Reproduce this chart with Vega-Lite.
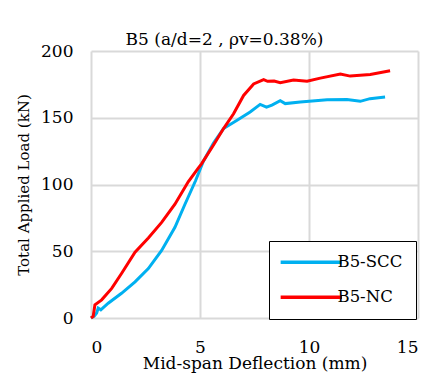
{
  "$schema": "https://vega.github.io/schema/vega-lite/v6.json",
  "width": 327,
  "height": 267,
  "autosize": {"type": "none"},
  "padding": {"left": 91, "top": 51, "right": 20, "bottom": 57},
  "background": "white",
  "title": {"text": "B5 (a/d=2 , ρv=0.38%)", "font": "DejaVu Serif", "fontSize": 17, "fontWeight": "normal", "color": "black", "offset": -7, "dx": -30, "anchor": "middle"},
  "data": {"values": [
    {"series": "B5-SCC", "x": 0, "y": 0},
    {"series": "B5-SCC", "x": 0.15, "y": 1.5},
    {"series": "B5-SCC", "x": 0.26, "y": 3.7},
    {"series": "B5-SCC", "x": 0.33, "y": 7.4},
    {"series": "B5-SCC", "x": 0.45, "y": 6.1},
    {"series": "B5-SCC", "x": 0.79, "y": 11.1},
    {"series": "B5-SCC", "x": 1.4, "y": 18.5},
    {"series": "B5-SCC", "x": 2.02, "y": 27.1},
    {"series": "B5-SCC", "x": 2.63, "y": 37},
    {"series": "B5-SCC", "x": 3.24, "y": 50.6},
    {"series": "B5-SCC", "x": 3.85, "y": 67.9},
    {"series": "B5-SCC", "x": 4.31, "y": 85.2},
    {"series": "B5-SCC", "x": 4.8, "y": 103},
    {"series": "B5-SCC", "x": 5.15, "y": 117.3},
    {"series": "B5-SCC", "x": 5.62, "y": 131},
    {"series": "B5-SCC", "x": 6.08, "y": 141.9},
    {"series": "B5-SCC", "x": 6.7, "y": 148.1},
    {"series": "B5-SCC", "x": 7.3, "y": 154.3},
    {"series": "B5-SCC", "x": 7.76, "y": 160},
    {"series": "B5-SCC", "x": 8.05, "y": 158},
    {"series": "B5-SCC", "x": 8.3, "y": 159.5},
    {"series": "B5-SCC", "x": 8.68, "y": 162.8},
    {"series": "B5-SCC", "x": 8.91, "y": 160.6},
    {"series": "B5-SCC", "x": 9.6, "y": 161.8},
    {"series": "B5-SCC", "x": 10.83, "y": 163.4},
    {"series": "B5-SCC", "x": 11.74, "y": 163.6},
    {"series": "B5-SCC", "x": 12.35, "y": 162.3},
    {"series": "B5-SCC", "x": 12.8, "y": 164.3},
    {"series": "B5-SCC", "x": 13.49, "y": 165.5},
    {"series": "B5-NC", "x": 0, "y": 0},
    {"series": "B5-NC", "x": 0.1, "y": 1.2},
    {"series": "B5-NC", "x": 0.18, "y": 9.9},
    {"series": "B5-NC", "x": 0.49, "y": 13.6},
    {"series": "B5-NC", "x": 0.95, "y": 22.2},
    {"series": "B5-NC", "x": 1.4, "y": 33.3},
    {"series": "B5-NC", "x": 2.02, "y": 49.3},
    {"series": "B5-NC", "x": 2.63, "y": 60},
    {"series": "B5-NC", "x": 3.24, "y": 71.6},
    {"series": "B5-NC", "x": 3.85, "y": 85.2},
    {"series": "B5-NC", "x": 4.46, "y": 102},
    {"series": "B5-NC", "x": 4.92, "y": 112.3},
    {"series": "B5-NC", "x": 5.07, "y": 115.5},
    {"series": "B5-NC", "x": 5.62, "y": 129.6},
    {"series": "B5-NC", "x": 6.08, "y": 141.9},
    {"series": "B5-NC", "x": 6.54, "y": 153},
    {"series": "B5-NC", "x": 7.0, "y": 166.7},
    {"series": "B5-NC", "x": 7.46, "y": 175.3},
    {"series": "B5-NC", "x": 7.92, "y": 178.5},
    {"series": "B5-NC", "x": 8.1, "y": 177.3},
    {"series": "B5-NC", "x": 8.4, "y": 177.5},
    {"series": "B5-NC", "x": 8.68, "y": 176.3},
    {"series": "B5-NC", "x": 9.29, "y": 178.2},
    {"series": "B5-NC", "x": 9.91, "y": 177.3},
    {"series": "B5-NC", "x": 10.52, "y": 179.7},
    {"series": "B5-NC", "x": 11.44, "y": 182.7},
    {"series": "B5-NC", "x": 11.89, "y": 181.2},
    {"series": "B5-NC", "x": 12.81, "y": 182.4},
    {"series": "B5-NC", "x": 13.72, "y": 185.2}
  ]},
  "mark": {"type": "line", "strokeWidth": 3, "interpolate": "linear"},
  "encoding": {
    "x": {"field": "x", "type": "quantitative", "scale": {"domain": [0, 15], "nice": false, "zero": false},
      "axis": {"values": [0, 5, 10, 15], "title": "Mid-span Deflection (mm)", "titleFontSize": 17, "titlePadding": 0, "labelPadding": 21}},
    "y": {"field": "y", "type": "quantitative", "scale": {"domain": [0, 200], "nice": false},
      "axis": {"values": [0, 50, 100, 150, 200], "title": "Total Applied Load (kN)", "titleFontSize": 15, "titlePadding": 9, "labelPadding": 18}},
    "color": {"field": "series", "type": "nominal",
      "scale": {"domain": ["B5-SCC", "B5-NC"], "range": ["#00b0f0", "#ff0000"]},
      "legend": {"title": null, "orient": "none", "legendX": 178, "legendY": 190,
        "symbolType": "M-5.1,0H5.1", "symbolSize": 144, "symbolStrokeWidth": 3.5,
        "padding": 13, "symbolOffset": 21, "labelOffset": 18, "rowPadding": 18,
        "strokeColor": "black", "fillColor": "white", "cornerRadius": 0,
        "labelFont": "DejaVu Serif", "labelFontSize": 16.5, "labelColor": "black"}}
  },
  "config": {
    "view": {"stroke": null},
    "axis": {"grid": true, "gridColor": "#d9d9d9", "gridWidth": 2, "domain": false, "ticks": false,
      "labelFont": "DejaVu Serif", "labelFontSize": 17, "labelColor": "black",
      "titleFont": "DejaVu Serif", "titleFontWeight": "normal", "titleColor": "black"}
  }
}
